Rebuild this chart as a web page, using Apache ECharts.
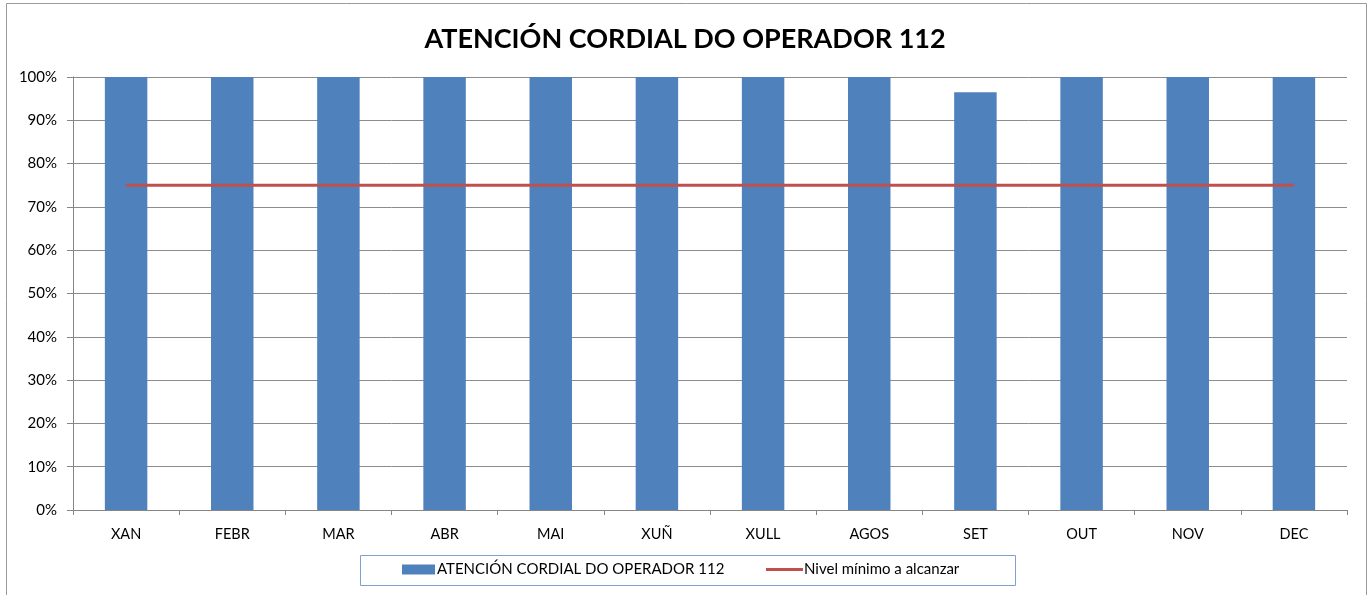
<!DOCTYPE html>
<html>
<head>
<meta charset="utf-8">
<script src="https://cdn.jsdelivr.net/npm/echarts@6/dist/echarts.min.js"></script>
<style>
html,body{margin:0;padding:0;background:#fff;}
#chart{width:1370px;height:595px;}
</style>
</head>
<body>
<div id="chart"></div>
<script>
const categories = ['XAN','FEBR','MAR','ABR','MAI','XUÑ','XULL','AGOS','SET','OUT','NOV','DEC'];
const attentionValues = [100,100,100,100,100,100,100,100,96.5,100,100,100];
const minimumLevel = [75,75,75,75,75,75,75,75,75,75,75,75];
const barName = 'ATENCIÓN CORDIAL DO OPERADOR 112';
const lineName = 'Nivel mínimo a alcanzar';
const titleText = 'ATENCIÓN CORDIAL DO OPERADOR 112';

const FONT = 'Lato, "Open Sans", sans-serif';
const chart = echarts.init(document.getElementById('chart'));
chart.setOption({
  animation: false,
  textStyle: {fontFamily: FONT},
  title: {
    text: titleText,
    left: 'center',
    top: 21,
    textStyle: {fontFamily: FONT, fontWeight: 'bold', fontSize: 27, color: '#000'}
  },
  graphic: [
    {
      type: 'rect',
      shape: {x: 6.5, y: 3.5, width: 1360, height: 600},
      style: {fill: 'none', stroke: '#9a9a9a', lineWidth: 1},
      silent: true
    },
    {
      type: 'rect',
      shape: {x: 360.5, y: 555.5, width: 655, height: 30},
      style: {fill: 'none', stroke: '#7fa2d0', lineWidth: 1},
      silent: true
    }
  ],
  legend: [
    {
      left: 402,
      top: 562,
      padding: 0,
      itemWidth: 33,
      itemHeight: 10,
      textStyle: {fontFamily: FONT, fontSize: 15, color: '#000', padding: [0,0,0,-3]},
      data: [{name: barName, icon: 'rect'}]
    },
    {
      left: 766,
      top: 562,
      padding: 0,
      itemWidth: 37,
      itemHeight: 3,
      textStyle: {fontFamily: FONT, fontSize: 15, color: '#000', padding: [0,0,0,-4]},
      data: [{name: lineName, icon: 'rect'}]
    }
  ],
  grid: {left: 73, right: 23, top: 77, bottom: 85, containLabel: false},
  xAxis: {
    type: 'category',
    data: categories,
    boundaryGap: true,
    axisLine: {lineStyle: {color: '#868686', width: 1}},
    axisTick: {show: true, length: 5, lineStyle: {color: '#868686'}},
    axisLabel: {color: '#000', fontSize: 14.5, margin: 17, fontFamily: FONT}
  },
  yAxis: {
    type: 'value',
    min: 0, max: 100, interval: 10,
    axisLine: {show: true, lineStyle: {color: '#868686'}},
    axisTick: {show: true, length: 6, lineStyle: {color: '#868686'}},
    splitLine: {lineStyle: {color: '#8c8c8c', width: 1}},
    axisLabel: {color: '#000', fontSize: 15, margin: 16, fontFamily: FONT, formatter: '{value}%'}
  },
  series: [
    {
      name: barName,
      type: 'bar',
      data: attentionValues,
      barWidth: '40%',
      itemStyle: {color: '#4F81BD'}
    },
    {
      name: lineName,
      type: 'line',
      data: minimumLevel,
      symbol: 'none',
      lineStyle: {color: '#C0504D', width: 3},
      itemStyle: {color: '#C0504D'},
      z: 3
    }
  ]
});
</script>
</body>
</html>
